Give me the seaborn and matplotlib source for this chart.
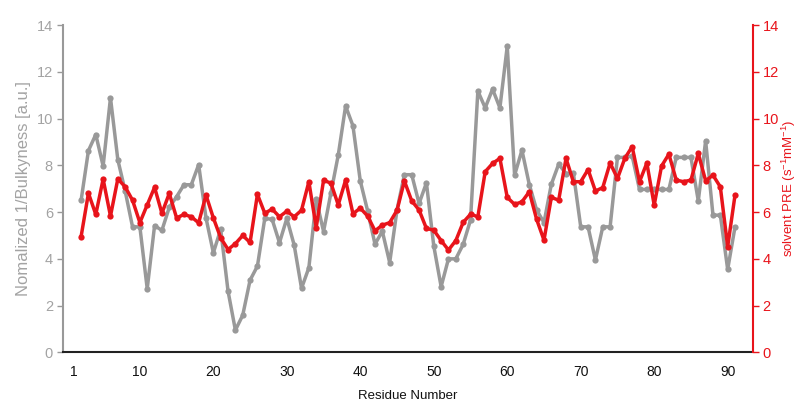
import numpy as np
import pandas as pd
import matplotlib
matplotlib.use("Agg")
import matplotlib.pyplot as plt
import seaborn as sns

# ---- data ----
residues = list(range(2, 92))
bulkyness = [6.5, 8.63, 9.32, 7.97, 10.89, 8.24, 6.9, 5.37, 5.37, 2.72,
             5.42, 5.22, 6.2, 6.66, 7.17, 7.17, 8.03, 5.75, 4.26, 5.26,
             2.62, 0.95, 1.59, 3.09, 3.69, 5.73, 5.69, 4.69, 5.73, 4.59,
             2.74, 3.62, 6.54, 5.17, 6.82, 8.44, 10.54, 9.69, 7.33, 6.05,
             4.63, 5.18, 3.84, 6.1, 7.6, 7.6, 6.37, 7.25, 4.55, 2.81,
             4.0, 4.0, 4.62, 5.66, 11.18, 10.46, 11.26, 10.46, 13.1, 7.58,
             8.65, 7.18, 6.09, 5.55, 7.19, 8.05, 7.65, 7.67, 5.37, 5.37,
             3.95, 5.37, 5.37, 8.34, 8.34, 8.4, 6.97, 6.97, 6.97, 6.97,
             6.97, 8.34, 8.34, 8.34, 6.48, 9.05, 5.87, 5.87, 3.55, 5.37]
pre = [4.95, 6.81, 5.9, 7.41, 5.83, 7.42, 7.08, 6.51, 5.55, 6.31,
       7.06, 5.95, 6.8, 5.75, 5.9, 5.8, 5.54, 6.73, 5.75, 4.9,
       4.4, 4.65, 5.0, 4.7, 6.76, 5.95, 6.13, 5.8, 6.04, 5.8,
       6.08, 7.3, 5.34, 7.36, 7.24, 6.31, 7.37, 5.93, 6.17, 5.83,
       5.2, 5.44, 5.55, 6.08, 7.33, 6.48, 6.09, 5.3, 5.23, 4.78,
       4.38, 4.78, 5.56, 5.91, 5.8, 7.73, 8.08, 8.3, 6.63, 6.33,
       6.44, 6.87, 5.69, 4.8, 6.63, 6.51, 8.3, 7.3, 7.3, 7.82,
       6.9, 7.05, 8.1, 7.44, 8.3, 8.8, 7.3, 8.1, 6.3, 7.97,
       8.48, 7.37, 7.3, 7.37, 8.51, 7.34, 7.58, 7.08, 4.52, 6.73]
xtick_labels = [1, 10, 20, 30, 40, 50, 60, 70, 80, 90]
ytick_values = [0, 2, 4, 6, 8, 10, 12, 14]

df = pd.DataFrame({"residue": residues, "bulk": bulkyness, "pre": pre})

sns.set_style("white")
plt.rcParams["font.family"] = ["Liberation Sans", "DejaVu Sans"]
plt.rcParams["mathtext.fontset"] = "custom"
plt.rcParams["mathtext.rm"] = "Liberation Sans"

GRAY = "#999999"
GRAYTXT = "#a3a3a3"
RED = "#e8141b"

fig = plt.figure(figsize=(7.99, 4.05), dpi=100)
ax = fig.add_axes([0.0785, 0.130, 0.8635, 0.808])
ax2 = ax.twinx()

sns.lineplot(data=df, x="residue", y="bulk", ax=ax, color=GRAY, linewidth=2.5,
             marker="o", markersize=4.5, markeredgewidth=0, zorder=2)
sns.lineplot(data=df, x="residue", y="pre", ax=ax2, color=RED, linewidth=2.5,
             marker="o", markersize=4.5, markeredgewidth=0, zorder=3)

ax.set_xlim(-0.5, 93.4)
ax.set_ylim(0, 14)
ax2.set_ylim(0, 14)

ax.set_xticks(xtick_labels)
ax.set_xticklabels([str(v) for v in xtick_labels])
ax.set_xticks(np.arange(-0.5, 93, 5), minor=True)
ax.tick_params(axis="x", which="major", length=0, pad=9, labelsize=10, colors="#111111")
ax.tick_params(axis="x", which="minor", length=4, width=1, direction="out", color="#222222")

ax.set_yticks(ytick_values)
ax2.set_yticks(ytick_values)
ax.tick_params(axis="y", length=4, width=1, direction="out", colors=GRAYTXT, labelsize=10.5, pad=3)
ax.tick_params(axis="y", color=GRAY)
ax2.tick_params(axis="y", length=4, width=1, direction="out", colors=RED, labelsize=10.5, pad=3)

for a in (ax, ax2):
    a.spines["top"].set_visible(False)
ax.spines["right"].set_visible(False)
ax2.spines["left"].set_visible(False)
ax2.spines["bottom"].set_visible(False)
ax.spines["left"].set_color(GRAY)
ax.spines["left"].set_linewidth(1.5)
ax.spines["bottom"].set_color("#222222")
ax.spines["bottom"].set_linewidth(1.5)
ax2.spines["right"].set_color(RED)
ax2.spines["right"].set_linewidth(1.5)

ax.set_xlabel("Residue Number", fontsize=9.5, color="#111111", labelpad=8)
ax.set_ylabel("Nomalized 1/Bulkyness [a.u.]", fontsize=12, color=GRAYTXT, labelpad=4)
ax2.set_ylabel(r"solvent PRE (s$^{\mathregular{-1}}$mM$^{\mathregular{-1}}$)",
               fontsize=9.5, color=RED)
ax2.yaxis.set_label_coords(1.040, 0.5)

ax.set_zorder(1)
ax2.set_zorder(2)
ax2.patch.set_visible(False)

fig.savefig("out.png", dpi=100)
